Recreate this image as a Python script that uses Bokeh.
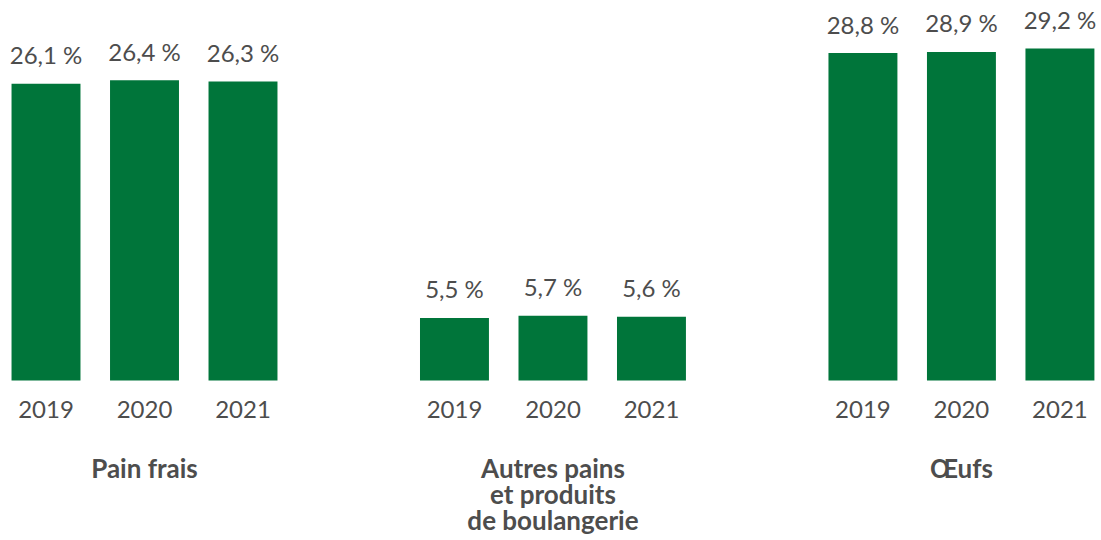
from bokeh.plotting import figure
from bokeh.models import ColumnDataSource, Range1d
from bokeh.core.properties import value
from bokeh.embed import file_html
from bokeh.resources import INLINE

categories = ["Pain frais", "Autres pains\net produits\nde boulangerie", "Œufs"]
years = ["2019", "2020", "2021"]
pain_frais = [26.1, 26.4, 26.3]
autres_pains = [5.5, 5.7, 5.6]
oeufs = [28.8, 28.9, 29.2]
series = [pain_frais, autres_pains, oeufs]

GROUP_STEP = 4.147
BAR_W = 0.70
GREEN = "#00753A"
GREY = "#4d4d4d"
FONT = "Lato"

xs, tops, vlabels, ylabels = [], [], [], []
cx, clines, coffs = [], [], []
for g, (cat, vals) in enumerate(zip(categories, series)):
    for i, (yr, v) in enumerate(zip(years, vals)):
        x = g * GROUP_STEP + i
        xs.append(x)
        tops.append(v)
        vlabels.append(f"{v:.1f}".replace(".", ",") + " %")
        ylabels.append(yr)
    for k, line in enumerate(cat.split("\n")):
        cx.append(g * GROUP_STEP + 1)
        clines.append(line)
        coffs.append(87 + 26 * k)

src = ColumnDataSource(dict(x=xs, top=tops, vlab=vlabels, ylab=ylabels, zero=[0] * len(xs)))
csrc = ColumnDataSource(dict(x=cx, line=clines, off=coffs, zero=[0] * len(cx)))

p = figure(width=1101, height=540, output_backend="svg", toolbar_location=None,
           x_range=Range1d(-0.462, 10.716), y_range=Range1d(-14.07, 33.42),
           min_border=0, outline_line_color=None)
p.axis.visible = False
p.grid.visible = False
p.background_fill_color = "white"
p.border_fill_color = "white"

p.vbar(x="x", top="top", bottom=0, width=BAR_W, source=src, fill_color=GREEN, line_color=None)
p.text(x="x", y="top", text="vlab", source=src, text_align="center", text_baseline="alphabetic",
       y_offset=-29, text_font=value(FONT), text_font_size="24px", text_color=GREY)
p.text(x="x", y="zero", text="ylab", source=src, text_align="center", text_baseline="alphabetic",
       y_offset=29, text_font=value(FONT), text_font_size="24px", text_color=GREY)
p.text(x="x", y="zero", text="line", source=csrc, text_align="center", text_baseline="alphabetic",
       y_offset="off", text_font=value(FONT), text_font_size="26px", text_font_style="bold",
       text_color=GREY)

open("out.html", "w").write(file_html(p, INLINE))
